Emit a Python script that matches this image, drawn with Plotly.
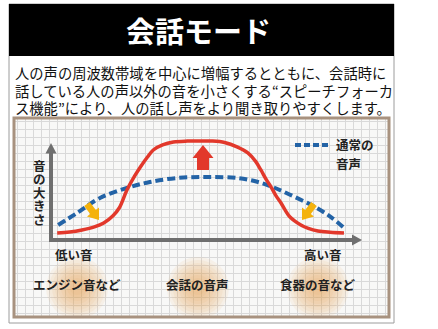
import math
import plotly.graph_objects as go

W, H = 438, 329

# Loudness curves over frequency (0 = low, 100 = high), loudness 0-100
enhanced_x = [2, 6, 10, 14, 17, 20, 22, 24.5, 27, 29, 31, 33, 36, 39.5, 44, 48,
              52, 56, 60, 63.5, 66, 67.7, 69.5, 71, 72.5, 74.2, 75.5, 77.1, 80.6,
              83, 86.1, 90, 94.5]
enhanced_y = [7.2, 8.2, 10.3, 13.5, 17.5, 25, 33, 51.5, 66, 76, 85, 92.8, 98, 101,
              102, 102.1, 102, 100.5, 96, 89.7, 81, 72.2, 62, 54.6, 46, 38.1, 31,
              23.7, 15.5, 12, 9.3, 8, 7.2]
normal_x = [2.3, 8.4, 15.8, 24.5, 31.9, 40.6, 50.3, 60.3, 66.8, 72.3, 78.7, 85.2, 90.3, 94.2]
normal_y = [15.5, 27.8, 43.3, 53.6, 59.8, 63.9, 64.9, 63.9, 59.8, 53.6, 44.3, 34.0, 23.7, 13.4]

title_text = "会話モード"
body_lines = [
    "人の声の周波数帯域を中心に増幅するとともに、会話時に",
    "話している人の声以外の音を小さくする“スピーチフォーカ",
    "ス機能”により、人の話し声をより聞き取りやすくします。",
]
y_label = "音の大きさ"
x_low_label = "低い音"
x_high_label = "高い音"
legend_lines = ["通常の", "音声"]
categories = ["エンジン音など", "会話の音声", "食器の音など"]
category_freq = [8.4, 47.4, 86.1]

FONT = "Noto Sans CJK JP"
RED = "#e2382b"
BLUE = "#2363a6"
AXIS_GRAY = "#6f6f6f"
YELLOW = "#f4b20c"

# pixel <-> data / paper helpers for the main axes
OX, OY, SX, SY = 51, 240, 3.1, 0.97


def dx(px):
    return (px - OX) / SX


def dy(py):
    return (OY - py) / SY


def pp(px, py):
    return px / W, 1 - py / H


def path_px(points):
    parts = []
    for i, (px, py) in enumerate(points):
        x, y = pp(px, py)
        parts.append(("M" if i == 0 else "L") + f"{x:.5f},{y:.5f}")
    return " ".join(parts) + " Z"


def block_arrow(tip, direction, length, head_len, head_w, shaft_w):
    ux, uy = direction
    n = math.hypot(ux, uy)
    ux, uy = ux / n, uy / n
    vx, vy = -uy, ux
    tx, ty = tip
    bx, by = tx - ux * head_len, ty - uy * head_len
    ex, ey = tx - ux * length, ty - uy * length
    hw, sw = head_w / 2, shaft_w / 2
    return path_px([
        (tx, ty),
        (bx + vx * hw, by + vy * hw),
        (bx + vx * sw, by + vy * sw),
        (ex + vx * sw, ey + vy * sw),
        (ex - vx * sw, ey - vy * sw),
        (bx - vx * sw, by - vy * sw),
        (bx - vx * hw, by - vy * hw),
    ])


fig = go.Figure()

# empty trace so the grid panel subplot is created
fig.add_trace(go.Scatter(x=[], y=[], xaxis="x", yaxis="y", hoverinfo="skip", showlegend=False))

# soft orange glow behind each sound-source label
glow_sizes = [62, 56, 50, 44, 38, 32, 26, 20, 14]
gx, gy, gs = [], [], []
for f in category_freq:
    for s in glow_sizes:
        gx.append(f)
        gy.append(dy(288))
        gs.append(s)
fig.add_trace(go.Scatter(
    x=gx, y=gy, mode="markers", xaxis="x2", yaxis="y2",
    marker=dict(size=gs, color="rgba(236,152,70,0.12)", line=dict(width=0)),
    hoverinfo="skip", showlegend=False,
))

fig.add_trace(go.Scatter(
    x=normal_x, y=normal_y, mode="lines", xaxis="x2", yaxis="y2",
    line=dict(color=BLUE, width=4, dash="8px,4px", shape="spline", smoothing=1.0),
    hoverinfo="skip", showlegend=False,
))
fig.add_trace(go.Scatter(
    x=enhanced_x, y=enhanced_y, mode="lines", xaxis="x2", yaxis="y2",
    line=dict(color=RED, width=3.5, shape="spline", smoothing=1.0),
    hoverinfo="skip", showlegend=False,
))

shapes = []
# outer frame and title bar
x0, y0 = pp(9, 4)
x1, y1 = pp(394, 323)
shapes.append(dict(type="rect", xref="paper", yref="paper", x0=x0, y0=y1, x1=x1, y1=y0,
                   line=dict(color="#9c9c9c", width=1), fillcolor="white", layer="below"))
x0, y0 = pp(9, 4)
x1, y1 = pp(394, 56)
shapes.append(dict(type="rect", xref="paper", yref="paper", x0=x0, y0=y1, x1=x1, y1=y0,
                   line=dict(width=0), fillcolor="black", layer="below"))
# chart panel
x0, y0 = pp(14, 118)
x1, y1 = pp(389, 317)
shapes.append(dict(type="rect", xref="paper", yref="paper", x0=x0, y0=y1, x1=x1, y1=y0,
                   line=dict(width=0), fillcolor="#f8f8f7", layer="below"))
shapes.append(dict(type="rect", xref="paper", yref="paper", x0=x0, y0=y1, x1=x1, y1=y0,
                   line=dict(color="#a8927f", width=3), fillcolor="rgba(0,0,0,0)", layer="above"))

# axes with arrowheads
shapes.append(dict(type="line", xref="paper", yref="paper",
                   x0=pp(51, 242)[0], y0=pp(51, 242)[1], x1=pp(51, 152)[0], y1=pp(51, 152)[1],
                   line=dict(color=AXIS_GRAY, width=4), layer="above"))
shapes.append(dict(type="line", xref="paper", yref="paper",
                   x0=pp(49, 240)[0], y0=pp(49, 240)[1], x1=pp(353, 240)[0], y1=pp(353, 240)[1],
                   line=dict(color=AXIS_GRAY, width=4), layer="above"))
shapes.append(dict(type="path", xref="paper", yref="paper",
                   path=path_px([(51, 143), (56.5, 153.5), (45.5, 153.5)]),
                   fillcolor=AXIS_GRAY, line=dict(width=0), layer="above"))
shapes.append(dict(type="path", xref="paper", yref="paper",
                   path=path_px([(362, 240), (352, 234.5), (352, 245.5)]),
                   fillcolor=AXIS_GRAY, line=dict(width=0), layer="above"))

# direction arrows
shapes.append(dict(type="path", xref="paper", yref="paper",
                   path=block_arrow((203, 145), (0, -1), 25, 13, 21, 12),
                   fillcolor=RED, line=dict(width=0), layer="above"))
shapes.append(dict(type="path", xref="paper", yref="paper",
                   path=block_arrow((99, 220), (0.75, 1), 20, 10, 15, 7),
                   fillcolor=YELLOW, line=dict(width=0), layer="above"))
shapes.append(dict(type="path", xref="paper", yref="paper",
                   path=block_arrow((302, 220), (-0.75, 1), 20, 10, 15, 7),
                   fillcolor=YELLOW, line=dict(width=0), layer="above"))

# legend swatch
lx0, ly = pp(295, 145)
lx1, _ = pp(329, 145)
shapes.append(dict(type="line", xref="paper", yref="paper", x0=lx0, y0=ly, x1=lx1, y1=ly,
                   line=dict(color=BLUE, width=4, dash="6px,3px"), layer="above"))

annotations = []


def label(text, px, py, size, color="#222", xanchor="center", weight="normal", height=None):
    x, y = pp(px, py)
    ann = dict(text=text, x=x, y=y, xref="paper", yref="paper",
               xanchor=xanchor, yanchor="middle", showarrow=False,
               font=dict(family=FONT, size=size, color=color, weight=weight))
    if height is not None:
        ann["height"] = height
    annotations.append(ann)


label(title_text, 198, 30, 29, color="white", weight="bold")
for i, line in enumerate(body_lines):
    label(line, 13, 72 + 18 * i, 14.3, color="#111", xanchor="left")

# vertical axis title, one upright character per row
for i, ch in enumerate(y_label):
    label(ch, 39, 165 + 13.5 * i, 12.5, weight="bold", height=13)
label(x_low_label, 53, 254, 12.5, xanchor="left", weight="bold")
label(x_high_label, 344, 254, 12.5, xanchor="right", weight="bold")
label(legend_lines[0], 334, 145, 12.5, xanchor="left", weight="bold")
label(legend_lines[1], 334, 163, 12.5, xanchor="left", weight="bold")

for name, f in zip(categories, category_freq):
    annotations.append(dict(text=name, x=f, y=dy(284), xref="x2", yref="y2",
                            xanchor="center", yanchor="middle", showarrow=False,
                            font=dict(family=FONT, size=12.5, color="#222", weight="bold")))

# grid panel axes (pixel units inside the panel)
gw, gh = 389 - 14, 317 - 118
hidden = dict(showline=False, zeroline=False, showticklabels=False, ticks="", fixedrange=True)

fig.update_layout(
    width=W, height=H,
    margin=dict(l=0, r=0, t=0, b=0),
    paper_bgcolor="white",
    plot_bgcolor="rgba(0,0,0,0)",
    xaxis=dict(domain=[14 / W, 389 / W], range=[0, gw], anchor="y",
               showgrid=True, gridcolor="#d9d9d9", gridwidth=1, dtick=8, tick0=3, **hidden),
    yaxis=dict(domain=[1 - 317 / H, 1 - 118 / H], range=[0, gh], anchor="x",
               showgrid=True, gridcolor="#d9d9d9", gridwidth=1, dtick=8, tick0=4, **hidden),
    xaxis2=dict(domain=[0, 1], range=[dx(0), dx(W)], anchor="y2", showgrid=False, **hidden),
    yaxis2=dict(domain=[0, 1], range=[dy(H), dy(0)], anchor="x2", showgrid=False, **hidden),
    shapes=shapes,
    annotations=annotations,
    showlegend=False,
)

fig.write_html("out.html", config={"displayModeBar": False})
